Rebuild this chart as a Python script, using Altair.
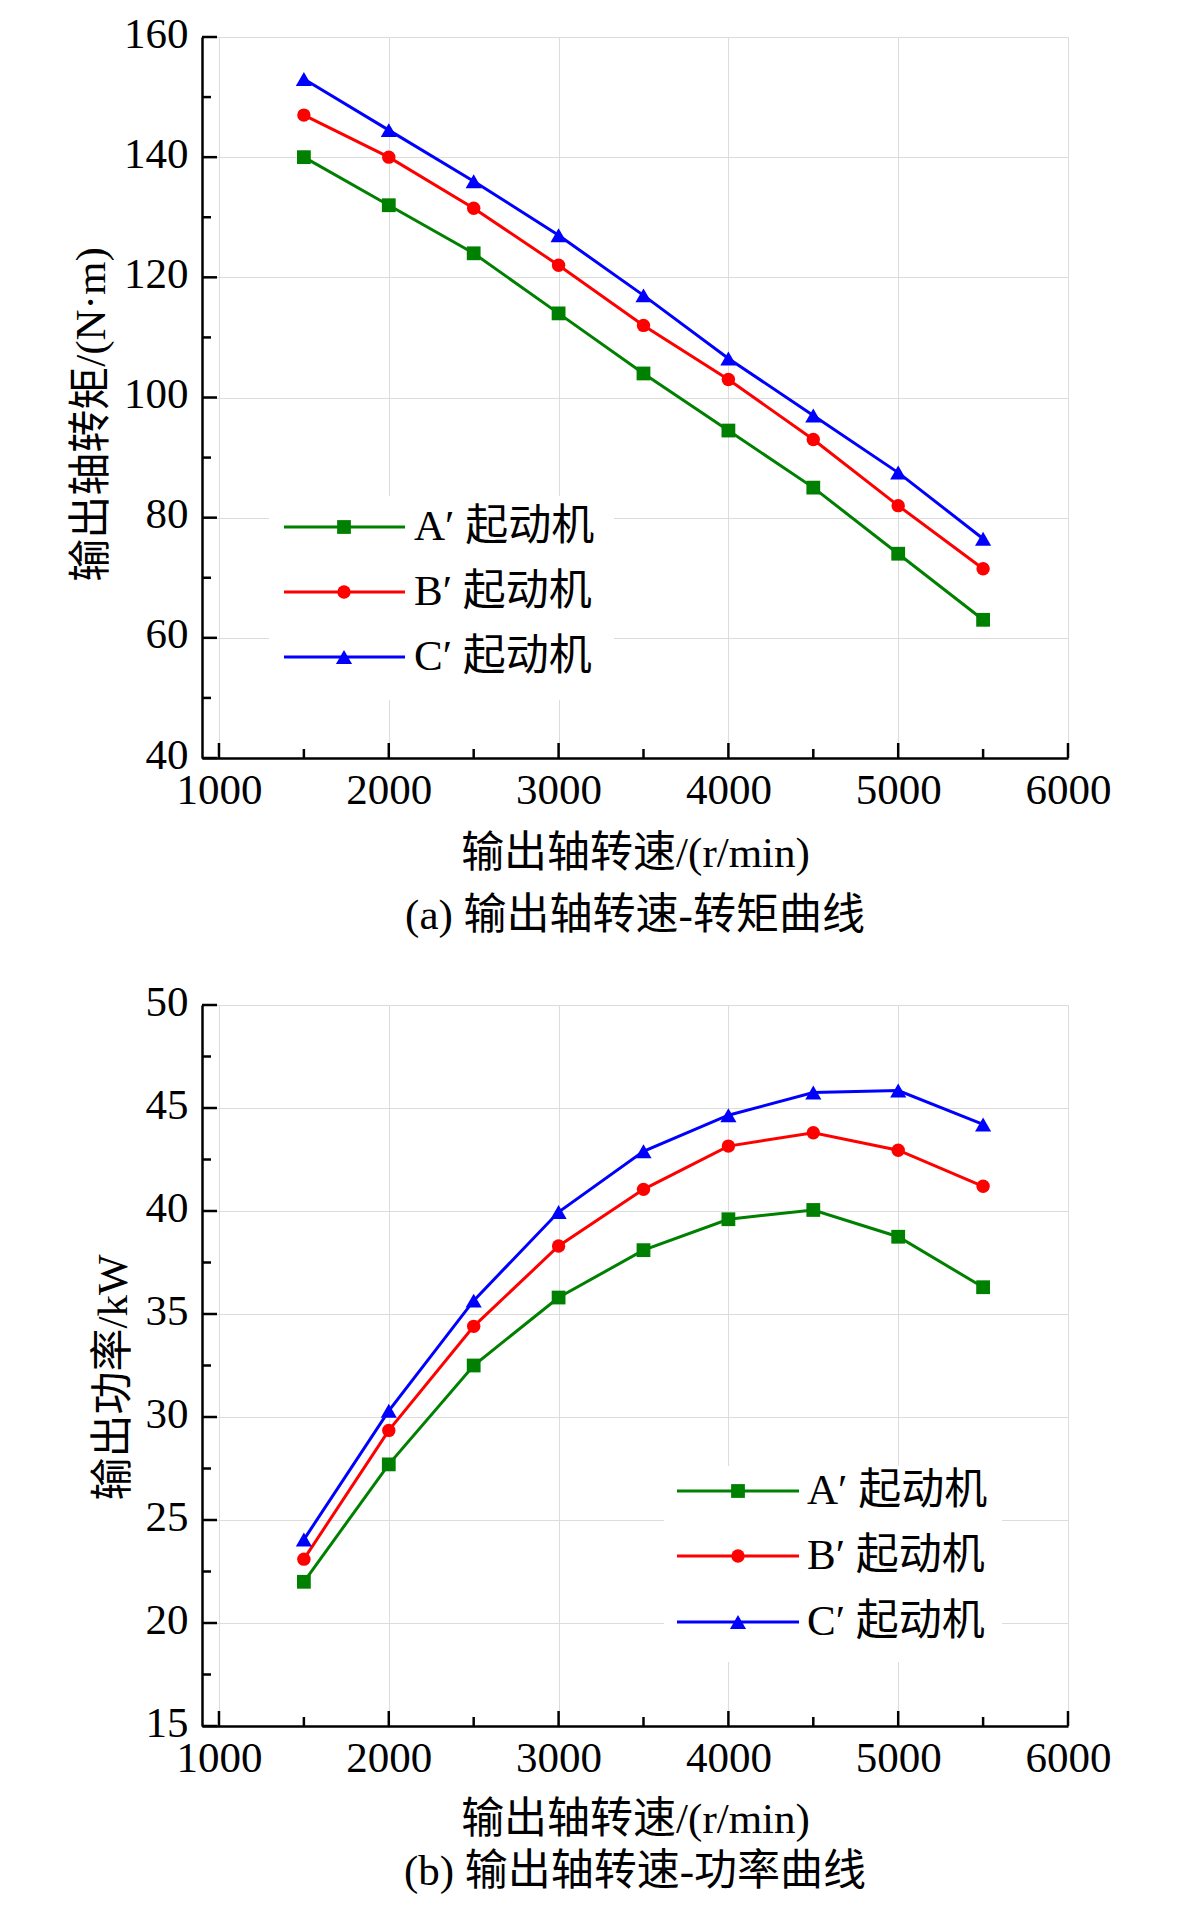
import altair as alt
import pandas as pd

# ---------------- data ----------------
speeds = [1500, 2000, 2500, 3000, 3500, 4000, 4500, 5000, 5500]
series_names = ["A′ 起动机", "B′ 起动机", "C′ 起动机"]

torque_A = [140.0, 132.0, 124.0, 114.0, 104.0, 94.5, 85.0, 74.0, 63.0]
torque_B = [147.0, 140.0, 131.5, 122.0, 112.0, 103.0, 93.0, 82.0, 71.5]
torque_C = [153.0, 144.5, 136.0, 127.0, 117.0, 106.5, 97.0, 87.5, 76.5]

power_A = [22.0, 27.7, 32.5, 35.8, 38.1, 39.6, 40.05, 38.75, 36.3]
power_B = [23.1, 29.35, 34.4, 38.3, 41.05, 43.15, 43.8, 42.95, 41.2]
power_C = [24.05, 30.3, 35.65, 39.95, 42.9, 44.65, 45.75, 45.85, 44.2]

x_major = [1000, 2000, 3000, 4000, 5000, 6000]
x_minor = [1500, 2500, 3500, 4500, 5500]
torque_major = [40, 60, 80, 100, 120, 140, 160]
torque_minor = [50, 70, 90, 110, 130, 150]
power_major = [15, 20, 25, 30, 35, 40, 45, 50]
power_minor = [17.5, 22.5, 27.5, 32.5, 37.5, 42.5, 47.5]

x_title = "输出轴转速/(r/min)"
torque_title = "输出轴转矩/(N·m)"
power_title = "输出功率/kW"
caption_a = "(a) 输出轴转速-转矩曲线"
caption_b = "(b) 输出轴转速-功率曲线"

# ---------------- style ----------------
colors = ["#008000", "#ff0000", "#0000ff"]
shapes = ["square", "circle", "triangle-up"]
sizes = [190, 180, 260]

W, H = 866, 721
LAB = "Liberation Serif"
TXT = "Liberation Serif, Noto Sans CJK SC"
FS = 43
AXW = 2.5
LW = 3


def panel(vals, ydomain, ymaj, ymin, ytitle, title_y, caption, leg, xt_pad, cap_off):
    rows = []
    for name, vs in zip(series_names, vals):
        for s, v in zip(speeds, vs):
            rows.append({"speed": s, "value": v, "series": name})
    df = pd.DataFrame(rows)

    xscale = alt.Scale(domain=[900, 6000], nice=False, zero=False)
    yscale = alt.Scale(domain=ydomain, nice=False, zero=False)
    xaxis = alt.Axis(values=x_major, format="d", grid=True, ticks=False, tickSize=0,
                     labelPadding=11, labelFont=LAB, labelFontSize=FS, labelColor="black",
                     labelFlush=False, labelOverlap=False,
                     title=x_title, titleFont=TXT, titleFontSize=FS, titleFontWeight="normal",
                     titleColor="black", titlePadding=xt_pad,
                     domainColor="black", domainWidth=AXW,
                     gridColor="#dcdcdc", gridWidth=1)
    yaxis = alt.Axis(values=ymaj, format="d", grid=True, ticks=False, tickSize=0,
                     labelPadding=14, labelOffset=-3, labelFont=LAB, labelFontSize=FS,
                     labelColor="black", labelFlush=False, labelOverlap=False,
                     title=ytitle, titleFont=TXT, titleFontSize=FS, titleFontWeight="normal",
                     titleColor="black", titlePadding=10, titleY=title_y,
                     domainColor="black", domainWidth=AXW,
                     gridColor="#dcdcdc", gridWidth=1)
    X = alt.X("speed:Q", scale=xscale, axis=xaxis)
    Y = alt.Y("value:Q", scale=yscale, axis=yaxis)

    layers = []
    # legend background
    bx0, by0, bx1, by1 = leg["box"]
    layers.append(
        alt.Chart(pd.DataFrame({"k": [0]})).mark_rect(color="white").encode(
            x=alt.value(bx0), x2=alt.value(bx1), y=alt.value(by0), y2=alt.value(by1))
    )
    # lines
    layers.append(
        alt.Chart(df).mark_line(strokeWidth=LW).encode(
            x=X, y=Y,
            color=alt.Color("series:N", scale=alt.Scale(domain=series_names, range=colors), legend=None))
    )
    # points
    for name, c, sh, sz in zip(series_names, colors, shapes, sizes):
        layers.append(
            alt.Chart(df[df["series"] == name]).mark_point(
                filled=True, opacity=1, color=c, shape=sh, size=sz).encode(x=X, y=Y)
        )
    # inward ticks
    layers.append(alt.Chart(pd.DataFrame({"speed": x_major})).mark_rule(color="black", strokeWidth=AXW)
                  .encode(x=X, y=alt.value(H), y2=alt.value(H - 15)))
    layers.append(alt.Chart(pd.DataFrame({"speed": x_minor})).mark_rule(color="black", strokeWidth=AXW)
                  .encode(x=X, y=alt.value(H), y2=alt.value(H - 9)))
    layers.append(alt.Chart(pd.DataFrame({"value": ymaj})).mark_rule(color="black", strokeWidth=AXW)
                  .encode(y=Y, x=alt.value(0), x2=alt.value(15)))
    layers.append(alt.Chart(pd.DataFrame({"value": ymin})).mark_rule(color="black", strokeWidth=AXW)
                  .encode(y=Y, x=alt.value(0), x2=alt.value(9)))
    # manual legend
    for i, (name, c, sh, sz) in enumerate(zip(series_names, colors, shapes, sizes)):
        ly = leg["rows"][i]
        one = pd.DataFrame({"series": [name]})
        layers.append(alt.Chart(one).mark_rule(color=c, strokeWidth=LW).encode(
            x=alt.value(leg["line"][0]), x2=alt.value(leg["line"][1]), y=alt.value(ly)))
        layers.append(alt.Chart(one).mark_point(filled=True, opacity=1, color=c, shape=sh, size=sz).encode(
            x=alt.value(leg["marker"]), y=alt.value(ly)))
        layers.append(alt.Chart(one).mark_text(align="left", baseline="middle", font=TXT,
                                               fontSize=FS, color="black").encode(
            x=alt.value(leg["text"]), y=alt.value(ly), text="series:N"))

    return alt.layer(*layers).properties(
        width=W, height=H,
        title=alt.TitleParams(caption, orient="bottom", anchor="middle", font=TXT, fontSize=FS,
                              fontWeight="normal", color="black", offset=cap_off),
    )


leg_a = {"rows": [490, 555, 620], "line": [82, 203], "marker": 142, "text": 212,
         "box": [67, 459, 412, 663]}
leg_b = {"rows": [486, 551, 617], "line": [475, 597], "marker": 536, "text": 605,
         "box": [462, 461, 800, 657]}

top = panel([torque_A, torque_B, torque_C], [40, 160], torque_major, torque_minor,
            torque_title, 377, caption_a, leg_a, 20, 20)
bottom = panel([power_A, power_B, power_C], [15, 50], power_major, power_minor,
               power_title, 372, caption_b, leg_b, 18, 10)

chart = alt.vconcat(top, bottom, spacing=247, bounds="flush").properties(
    padding={"left": 62, "top": 4, "right": 5, "bottom": 0}
).configure_view(stroke="black", strokeWidth=AXW).configure(background="white")

chart.save("out.html", embed_options={"renderer": "svg", "actions": False})
